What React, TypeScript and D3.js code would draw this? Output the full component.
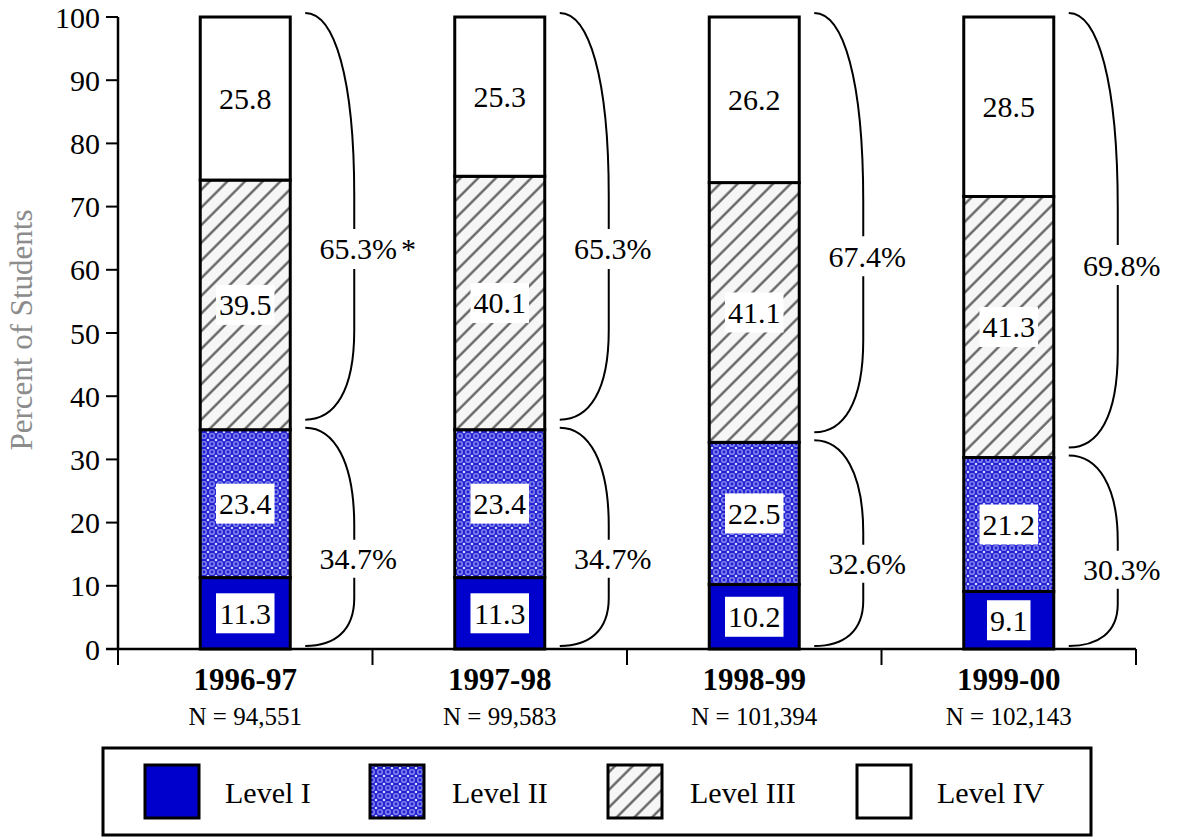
import React from "react";
import * as d3 from "d3";

const years = ["1996-97", "1997-98", "1998-99", "1999-00"];
const nLabels = ["N = 94,551", "N = 99,583", "N = 101,394", "N = 102,143"];
const level1 = [11.3, 11.3, 10.2, 9.1];
const level2 = [23.4, 23.4, 22.5, 21.2];
const level3 = [39.5, 40.1, 41.1, 41.3];
const level4 = [25.8, 25.3, 26.2, 28.5];
const upperLabels = ["65.3%", "65.3%", "67.4%", "69.8%"];
const upperNotes = ["*", "", "", ""];
const lowerLabels = ["34.7%", "34.7%", "32.6%", "30.3%"];
const levelNames = ["Level I", "Level II", "Level III", "Level IV"];
const yTicks = [0, 10, 20, 30, 40, 50, 60, 70, 80, 90, 100];

const W = 1189;
const H = 837;
const FONT = "'Liberation Serif', 'Times New Roman', Times, serif";
const keys = ["l1", "l2", "l3", "l4"];
const fills = ["#0000cc", "url(#lvl2)", "url(#lvl3)", "#ffffff"];

const rows = years.map((y, i) => ({
  year: y,
  l1: level1[i],
  l2: level2[i],
  l3: level3[i],
  l4: level4[i],
}));

const charW: Record<string, number> = { ".": 0.25, ",": 0.25, "%": 0.833 };
function textWidth(s: string, size: number) {
  let w = 0;
  for (const c of s) w += charW[c] ?? 0.5;
  return w * size;
}

function bracePath(x0: number, x1: number, yt: number, yb: number, ly: number, gap: number) {
  const h = yb - yt;
  const w = x1 - x0;
  const a = yt + h * 0.45;
  const b = yt + h * 0.78;
  return (
    `M${x0},${yt} C${x0 + 0.6 * w},${yt} ${x1},${yt + 0.16 * h} ${x1},${a} ` +
    `L${x1},${ly - gap} M${x1},${ly + gap} L${x1},${b} ` +
    `C${x1},${yt + 0.93 * h} ${x0 + 0.6 * w},${yb} ${x0},${yb}`
  );
}

export default function App() {
  const y = d3.scaleLinear().domain([0, 100]).range([649, 17]);
  const x = d3.scaleBand().domain(years).range([118, 1136]).paddingInner(0).paddingOuter(0);
  const barW = 90;
  const stack = d3.stack<any>().keys(keys)(rows);
  const edges = d3.range(years.length + 1).map((i) => 118 + i * x.bandwidth());

  const legendSwatchX = [145, 370, 608, 857];
  const legendTextX = [225, 452, 690, 937];

  return (
    <svg
      width={W}
      height={H}
      style={{ position: "absolute", left: 0, top: 0, display: "block", background: "#fff" }}
      fontFamily={FONT}
    >
      <defs>
        <pattern id="lvl2" patternUnits="userSpaceOnUse" width="8" height="8">
          <rect width="8" height="8" fill="#2020d2" />
          <circle cx="4" cy="4" r="3.1" fill="#8080ec" />
          <circle cx="4" cy="4" r="1.4" fill="#2020d2" />
          <circle cx="0" cy="0" r="1.3" fill="#d8d8fc" />
          <circle cx="8" cy="0" r="1.3" fill="#d8d8fc" />
          <circle cx="0" cy="8" r="1.3" fill="#d8d8fc" />
          <circle cx="8" cy="8" r="1.3" fill="#d8d8fc" />
        </pattern>
        <pattern
          id="lvl3"
          patternUnits="userSpaceOnUse"
          width="12.5"
          height="12.5"
          patternTransform="rotate(45)"
        >
          <rect width="12.5" height="12.5" fill="#f6f6f6" />
          <line x1="1.5" y1="0" x2="1.5" y2="12.5" stroke="#5a5a5a" strokeWidth="2.2" />
        </pattern>
      </defs>

      {/* y-axis title */}
      <text
        transform={`translate(32,330) rotate(-90)`}
        textAnchor="middle"
        fontSize={31}
        fill="#8c8c8c"
      >
        Percent of Students
      </text>

      {/* bars */}
      {stack.map((layer, li) =>
        layer.map((d, i) => {
          const cx = (x(years[i]) as number) + x.bandwidth() / 2;
          const top = y(Math.min(100, d[1]));
          const bot = y(d[0]);
          return (
            <rect
              key={`${li}-${i}`}
              x={cx - barW / 2}
              y={top}
              width={barW}
              height={bot - top}
              fill={fills[li]}
              stroke="#000"
              strokeWidth={3}
            />
          );
        })
      )}

      {/* value labels */}
      {stack.map((layer, li) =>
        layer.map((d, i) => {
          const cx = (x(years[i]) as number) + x.bandwidth() / 2;
          const cy = (y(d[0]) + y(Math.min(100, d[1]))) / 2;
          const label = String((d.data as any)[keys[li]]);
          const tw = textWidth(label, 30);
          return (
            <g key={`lab-${li}-${i}`}>
              <rect x={cx - tw / 2 - 3} y={cy - 20} width={tw + 6} height={40} fill="#fff" />
              <text x={cx} y={cy} dy="0.35em" textAnchor="middle" fontSize={30} fill="#000">
                {label}
              </text>
            </g>
          );
        })
      )}

      {/* braces */}
      {years.map((yr, i) => {
        const barRight = (x(yr) as number) + x.bandwidth() / 2 + barW / 2;
        const x0 = barRight + 15;
        const x1 = barRight + 64;
        const lowSum = level1[i] + level2[i];
        const yB = y(lowSum);
        const meet = yB - 6;
        const uTop = y(100) - 4;
        const uBot = meet - 4;
        const lTop = meet + 4;
        const lBot = y(0) - 3;
        const uLabY = uTop + (uBot - uTop) * 0.58;
        const lLabY = lTop + (lBot - lTop) * 0.6;
        const lx = x1 + 4;
        const uw = textWidth(upperLabels[i], 30);
        return (
          <g key={`brace-${i}`}>
            <path d={bracePath(x0, x1, uTop, uBot, uLabY, 20)} fill="none" stroke="#000" strokeWidth={2} />
            <path d={bracePath(x0, x1, lTop, lBot, lLabY, 19)} fill="none" stroke="#000" strokeWidth={2} />
            <text x={lx} y={uLabY} dy="0.35em" textAnchor="middle" fontSize={30}>
              {upperLabels[i]}
            </text>
            {upperNotes[i] && (
              <text x={lx + uw / 2 + 4} y={uLabY} dy="0.35em" textAnchor="start" fontSize={30}>
                {upperNotes[i]}
              </text>
            )}
            <text x={lx} y={lLabY} dy="0.35em" textAnchor="middle" fontSize={30}>
              {lowerLabels[i]}
            </text>
          </g>
        );
      })}

      {/* y axis */}
      <line x1={118} x2={118} y1={y(100)} y2={y(0)} stroke="#000" strokeWidth={2.5} />
      {yTicks.map((t) => (
        <g key={`yt-${t}`}>
          <line x1={106} x2={118} y1={y(t)} y2={y(t)} stroke="#000" strokeWidth={2} />
          <text x={100} y={y(t)} dy="0.35em" textAnchor="end" fontSize={30}>
            {t}
          </text>
        </g>
      ))}

      {/* x axis */}
      <line x1={106} x2={edges[edges.length - 1]} y1={y(0)} y2={y(0)} stroke="#000" strokeWidth={2.5} />
      {edges.map((e, i) => (
        <line key={`xt-${i}`} x1={e} x2={e} y1={y(0)} y2={y(0) + 16} stroke="#000" strokeWidth={2} />
      ))}
      {years.map((yr, i) => {
        const cx = (x(yr) as number) + x.bandwidth() / 2;
        return (
          <g key={`xl-${i}`}>
            <text x={cx} y={690} textAnchor="middle" fontSize={31} fontWeight="bold">
              {yr}
            </text>
            <text x={cx} y={725} textAnchor="middle" fontSize={25}>
              {nLabels[i]}
            </text>
          </g>
        );
      })}

      {/* legend */}
      <rect x={103} y={748} width={988} height={87} fill="none" stroke="#000" strokeWidth={3} />
      {levelNames.map((name, i) => (
        <g key={`lg-${i}`}>
          <rect
            x={legendSwatchX[i]}
            y={765}
            width={54}
            height={53}
            fill={fills[i]}
            stroke="#000"
            strokeWidth={3}
          />
          <text x={legendTextX[i]} y={803} fontSize={30}>
            {name}
          </text>
        </g>
      ))}
    </svg>
  );
}
